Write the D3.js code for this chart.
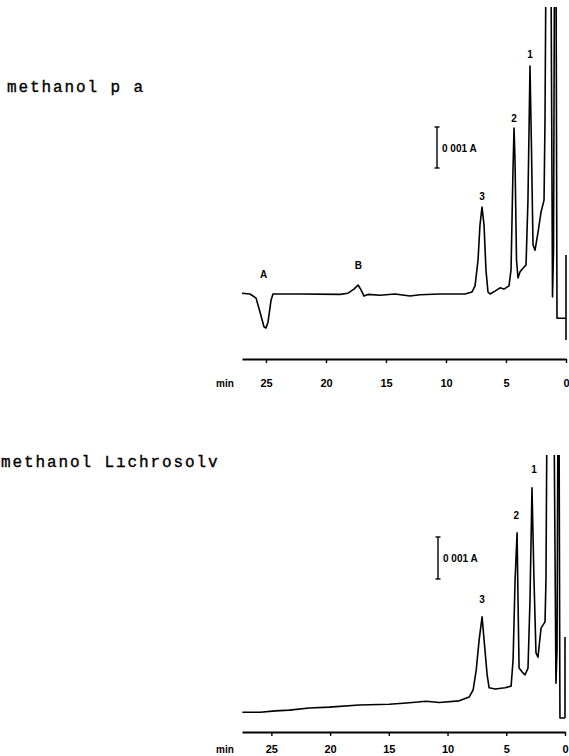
<!DOCTYPE html>
<html>
<head>
  <script src="https://d3js.org/d3.v7.min.js"></script>
  <style>
    body { margin: 0; background: #fff; }
    .title { font-family: "Liberation Mono", monospace; font-size: 16px; letter-spacing: 1.9px; stroke: #000; stroke-width: 0.35; }
    .lbl { font-family: "Liberation Sans", Arial, sans-serif; font-weight: bold; font-size: 10px; }
    .axis text { font-family: "Liberation Sans", Arial, sans-serif; font-weight: bold; font-size: 11px; }
    .trace { fill: none; stroke: #000; stroke-width: 1.6; stroke-linejoin: round; }
  </style>
</head>
<body>
<svg id="chart" width="569" height="756"></svg>
<script>
  // chromatogram, methanol p a  (time in min, absorbance in 0.001 A)
  const topTime = [27.0, 26.33, 25.83, 25.5, 25.17, 25.0, 24.83, 24.58, 24.42, 22.17, 18.83, 18.17, 17.67, 17.33,
    17.08, 16.83, 16.5, 15.5, 14.25, 13.0, 12.17, 10.5, 8.42, 7.83, 7.58, 7.33, 7.17, 7.0, 6.83, 6.67, 6.5, 6.33,
    5.92, 5.5, 5.17, 4.75, 4.58, 4.42, 4.33, 4.25, 4.125, 4.0, 3.83, 3.58, 3.33, 3.17, 3.0, 2.875, 2.75, 2.58,
    2.33, 2.08, 1.83, 1.75, 1.67, 1.25, 1.125, 1.04, 0.96, 0.83, 0.75, 0.0];
  const topAbs = [0.02, 0, -0.1, -0.44, -0.8, -0.83, -0.68, -0.15, 0, 0, -0.01, 0.02, 0.12, 0.22,
    0.1, -0.05, -0.01, -0.03, 0, -0.05, -0.02, 0, 0, 0.05, 0.2, 0.83, 1.68, 2.12, 1.68, 0.59, 0.05, 0,
    0.07, 0.15, 0.12, 0.2, 0.59, 3.0, 4.05, 3.27, 0.83, 0.39, 0.54, 0.63, 0.71, 2.29, 5.56, 3.51, 1.2, 1.07,
    1.51, 2.0, 2.29, 4.24, 8.0, 8.0, -0.07, 1.07, 8.0, 8.0, -0.59, -0.59];
  const topMark = [0.95, -1.12];

  // chromatogram, methanol Lichrosolv
  const botTime = [27.47, 25.94, 24.66, 23.47, 21.77, 20.07, 17.52, 14.97, 13.5, 11.82, 10.71, 9.01, 8.16, 7.82,
    7.56, 7.31, 7.06, 6.89, 6.63, 6.46, 5.95, 5.10, 4.59, 4.42, 4.25, 4.08, 4.0, 3.91, 3.66, 3.4, 3.15, 2.98,
    2.81, 2.64, 2.47, 2.30, 2.04, 1.70, 1.62, 1.53, 0.94, 0.77, 0.68, 0.6, 0.51, 0.43, 0.0];
  const botAbs = [-0.29, -0.29, -0.26, -0.24, -0.19, -0.17, -0.12, -0.1, -0.07, -0.03, -0.06, -0.02, 0.07, 0.24,
    0.71, 1.43, 1.98, 1.43, 0.6, 0.29, 0.26, 0.29, 0.33, 0.95, 2.86, 3.98, 2.38, 0.76, 0.67, 0.6, 0.76, 2.38,
    5.05, 2.86, 1.12, 1.02, 1.71, 1.86, 2.86, 7.0, 7.0, 0.4, 1.19, 7.0, 7.0, -0.43, -0.43];
  const botMark = [1.5, -0.43];

  const ticks = [25, 20, 15, 10, 5, 0];
  const topPeaks = [{ n: 'A', t: 25.2, a: 0.39 }, { n: 'B', t: 17.3, a: 0.6 }, { n: '3', t: 7.0, a: 2.3 },
    { n: '2', t: 4.33, a: 4.2 }, { n: '1', t: 3.0, a: 5.75 }];
  const botPeaks = [{ n: '3', t: 7.06, a: 2.3 }, { n: '2', t: 4.15, a: 4.3 }, { n: '1', t: 2.64, a: 5.4 }];

  const svg = d3.select('#chart');

  function panel(cfg) {
    const x = d3.scaleLinear().domain([0, cfg.tmax]).range([cfg.x0, 242]);
    const y = d3.scaleLinear().domain([0, 1]).range([cfg.base, cfg.base - cfg.unit]);
    const g = svg.append('g');

    g.append('text').attr('class', 'title').attr('x', cfg.tx).attr('y', cfg.ty).text(cfg.title);

    svg.append('clipPath').attr('id', cfg.id)
      .append('rect').attr('x', 230).attr('y', cfg.clipTop).attr('width', 345).attr('height', cfg.axisY - cfg.clipTop - 2);

    const line = d3.line().x(d => x(d[0])).y(d => y(d[1]));
    const pts = cfg.time.map((t, i) => [t, cfg.abs[i]]);
    g.append('path').attr('class', 'trace').attr('clip-path', `url(#${cfg.id})`).attr('d', line(pts));
    g.append('path').attr('class', 'trace').attr('clip-path', `url(#${cfg.id})`)
      .attr('d', line(cfg.mark.map(a => [0, a])));

    // peak labels
    g.selectAll('.pk').data(cfg.peaks).enter().append('text')
      .attr('class', 'lbl').attr('text-anchor', 'middle')
      .attr('x', d => x(d.t)).attr('y', d => y(d.a)).text(d => d.n);

    // 0.001 A scale bar
    const sb = g.append('g').attr('stroke', '#000').attr('stroke-width', 1.4);
    const y1 = cfg.barTop, y2 = cfg.barTop + cfg.unit;
    sb.append('line').attr('x1', cfg.barX).attr('x2', cfg.barX).attr('y1', y1).attr('y2', y2);
    sb.append('line').attr('x1', cfg.barX - 2.5).attr('x2', cfg.barX + 2.5).attr('y1', y1).attr('y2', y1);
    sb.append('line').attr('x1', cfg.barX - 2.5).attr('x2', cfg.barX + 2.5).attr('y1', y2).attr('y2', y2);
    g.append('text').attr('class', 'lbl').attr('font-size', 9)
      .attr('x', cfg.barX + 5).attr('y', (y1 + y2) / 2 + 4).text('0 001 A');

    // time axis
    const ax = g.append('g').attr('class', 'axis').attr('transform', `translate(0,${cfg.axisY})`)
      .call(d3.axisBottom(x).tickValues(ticks).tickSize(4).tickSizeOuter(0).tickPadding(cfg.pad).tickFormat(d3.format('d')));
    ax.select('.domain').attr('stroke-width', 1.8);
    ax.selectAll('.tick line').attr('stroke-width', 1.4);
    g.append('text').attr('class', 'lbl').attr('font-size', 9).attr('x', 216)
      .attr('y', cfg.axisY + cfg.pad + 12).text('min');
  }

  panel({ id: 'clipTop', title: 'methanol p a', tx: 7, ty: 92, tmax: 27, x0: 566, base: 294, unit: 41, pad: 16,
    axisY: 359, clipTop: 7, time: topTime, abs: topAbs, mark: topMark, peaks: topPeaks, barX: 437, barTop: 127 });
  panel({ id: 'clipBot', title: 'methanol L\u0131chrosolv', tx: 1, ty: 467, tmax: 27.5, x0: 565, base: 700, unit: 42, pad: 9,
    axisY: 732, clipTop: 455, time: botTime, abs: botAbs, mark: botMark, peaks: botPeaks, barX: 438, barTop: 537 });
</script>
</body>
</html>
